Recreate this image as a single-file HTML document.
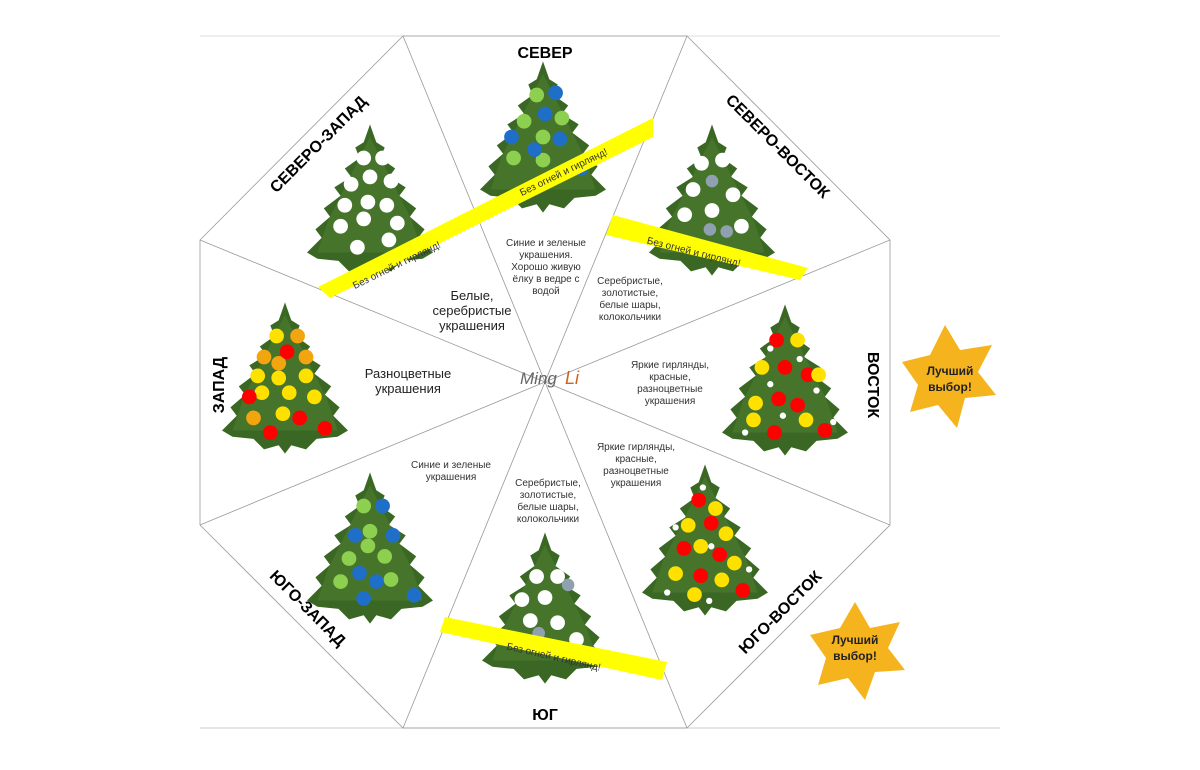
<!DOCTYPE html>
<html><head><meta charset="utf-8"><style>
html,body{margin:0;padding:0;background:#fff}
svg text{font-family:"Liberation Sans",sans-serif}
</style></head><body>
<svg width="1200" height="765" viewBox="0 0 1200 765" xmlns="http://www.w3.org/2000/svg">
<defs>
<g id="tree">
<polygon points="0,-72 6,-55 14,-50 10,-40 24,-30 18,-22 34,-12 28,-4 44,8 38,16 52,28 46,36 60,50 50,56 30,58 20,68 6,64 0,72 -6,64 -20,68 -30,58 -50,56 -60,50 -46,36 -52,28 -38,16 -44,8 -28,-4 -34,-12 -18,-22 -24,-30 -10,-40 -14,-50 -6,-55" fill="#3a6824"/>
<polygon points="0,-60 20,-20 40,20 50,50 -50,50 -40,20 -20,-20" fill="#4f7d30" opacity="0.6"/>
</g>
</defs>
<line x1="200" y1="36" x2="1000" y2="36" stroke="#ddd"/>
<line x1="200" y1="728" x2="1000" y2="728" stroke="#ccc"/>
<g stroke="#999" stroke-width="0.8" fill="none">
<polygon points="403,36 687,36 890,240 890,525 687,728 403,728 200,525 200,240"/>
<line x1="545" y1="382" x2="403" y2="36"/><line x1="545" y1="382" x2="687" y2="36"/>
<line x1="545" y1="382" x2="890" y2="240"/><line x1="545" y1="382" x2="890" y2="525"/>
<line x1="545" y1="382" x2="687" y2="728"/><line x1="545" y1="382" x2="403" y2="728"/>
<line x1="545" y1="382" x2="200" y2="525"/><line x1="545" y1="382" x2="200" y2="240"/>
</g>
<g transform="translate(543,137) scale(1.05)"><use href="#tree"/>
<g fill="#8dcf4f"><circle cx="-6" cy="-40" r="7"/><circle cx="-18" cy="-15" r="7"/><circle cx="0" cy="0" r="7"/><circle cx="18" cy="-18" r="7"/><circle cx="-28" cy="20" r="7"/><circle cx="0" cy="22" r="7"/></g>
<g fill="#1f6fc8"><circle cx="12" cy="-42" r="7"/><circle cx="2" cy="-22" r="7"/><circle cx="-30" cy="0" r="7"/><circle cx="16" cy="2" r="7"/><circle cx="-8" cy="12" r="7"/><circle cx="36" cy="30" r="7"/></g></g>
<g transform="translate(370,200) scale(1.05)"><use href="#tree"/>
<g fill="#fff"><circle cx="-6" cy="-40" r="7"/><circle cx="12" cy="-40" r="7"/><circle cx="0" cy="-22" r="7"/><circle cx="20" cy="-18" r="7"/><circle cx="-18" cy="-15" r="7"/><circle cx="-24" cy="5" r="7"/><circle cx="-2" cy="2" r="7"/><circle cx="16" cy="5" r="7"/><circle cx="-28" cy="25" r="7"/><circle cx="-6" cy="18" r="7"/><circle cx="26" cy="22" r="7"/><circle cx="18" cy="38" r="7"/><circle cx="-12" cy="45" r="7"/><circle cx="38" cy="48" r="7"/></g></g>
<g transform="translate(712,200) scale(1.05)"><use href="#tree"/>
<g fill="#fff"><circle cx="-10" cy="-35" r="7"/><circle cx="10" cy="-38" r="7"/><circle cx="-18" cy="-10" r="7"/><circle cx="20" cy="-5" r="7"/><circle cx="0" cy="10" r="7"/><circle cx="-26" cy="14" r="7"/><circle cx="28" cy="25" r="7"/></g>
<g fill="#8fa0b0"><circle cx="0" cy="-18" r="6"/><circle cx="-2" cy="28" r="6"/><circle cx="14" cy="30" r="6"/></g></g>
<g transform="translate(285,378) scale(1.05)"><use href="#tree"/>
<g fill="#ffe100"><circle cx="-8" cy="-40" r="7"/><circle cx="20" cy="-2" r="7"/><circle cx="-6" cy="0" r="7"/><circle cx="-22" cy="14" r="7"/><circle cx="4" cy="14" r="7"/><circle cx="28" cy="18" r="7"/><circle cx="-2" cy="34" r="7"/><circle cx="-26" cy="-2" r="7"/></g>
<g fill="#f2a50f"><circle cx="12" cy="-40" r="7"/><circle cx="-20" cy="-20" r="7"/><circle cx="-6" cy="-14" r="7"/><circle cx="-30" cy="38" r="7"/><circle cx="20" cy="-20" r="7"/></g>
<g fill="#f00"><circle cx="2" cy="-25" r="7"/><circle cx="-34" cy="18" r="7"/><circle cx="14" cy="38" r="7"/><circle cx="-14" cy="52" r="7"/><circle cx="38" cy="48" r="7"/></g></g>
<g transform="translate(785,380) scale(1.05)"><use href="#tree"/>
<g fill="#f00"><circle cx="-8" cy="-38" r="7"/><circle cx="0" cy="-12" r="7"/><circle cx="22" cy="-5" r="7"/><circle cx="-6" cy="18" r="7"/><circle cx="12" cy="24" r="7"/><circle cx="38" cy="48" r="7"/><circle cx="-10" cy="50" r="7"/></g>
<g fill="#ffe100"><circle cx="12" cy="-38" r="7"/><circle cx="-22" cy="-12" r="7"/><circle cx="32" cy="-5" r="7"/><circle cx="-28" cy="22" r="7"/><circle cx="20" cy="38" r="7"/><circle cx="-30" cy="38" r="7"/></g>
<g fill="#fff"><circle cx="-14" cy="-30" r="3"/><circle cx="14" cy="-20" r="3"/><circle cx="-38" cy="50" r="3"/><circle cx="-2" cy="34" r="3"/><circle cx="30" cy="10" r="3"/><circle cx="-14" cy="4" r="3"/><circle cx="46" cy="40" r="3"/></g></g>
<g transform="translate(370,548) scale(1.05)"><use href="#tree"/>
<g fill="#8dcf4f"><circle cx="-6" cy="-40" r="7"/><circle cx="0" cy="-16" r="7"/><circle cx="-20" cy="10" r="7"/><circle cx="14" cy="8" r="7"/><circle cx="-28" cy="32" r="7"/><circle cx="20" cy="30" r="7"/><circle cx="-2" cy="-2" r="7"/></g>
<g fill="#1f6fc8"><circle cx="12" cy="-40" r="7"/><circle cx="-14" cy="-12" r="7"/><circle cx="22" cy="-12" r="7"/><circle cx="-10" cy="24" r="7"/><circle cx="6" cy="32" r="7"/><circle cx="-6" cy="48" r="7"/><circle cx="42" cy="45" r="7"/></g></g>
<g transform="translate(545,608) scale(1.05)"><use href="#tree"/>
<g fill="#fff"><circle cx="-8" cy="-30" r="7"/><circle cx="12" cy="-30" r="7"/><circle cx="-22" cy="-8" r="7"/><circle cx="0" cy="-10" r="7"/><circle cx="-14" cy="12" r="7"/><circle cx="12" cy="14" r="7"/><circle cx="-30" cy="30" r="7"/><circle cx="30" cy="30" r="7"/></g>
<g fill="#8fa0b0"><circle cx="22" cy="-22" r="6"/><circle cx="-6" cy="24" r="6"/></g></g>
<g transform="translate(705,540) scale(1.05)"><use href="#tree"/>
<g fill="#f00"><circle cx="-6" cy="-38" r="7"/><circle cx="6" cy="-16" r="7"/><circle cx="-20" cy="8" r="7"/><circle cx="14" cy="14" r="7"/><circle cx="-4" cy="34" r="7"/><circle cx="36" cy="48" r="7"/></g>
<g fill="#ffe100"><circle cx="10" cy="-30" r="7"/><circle cx="-16" cy="-14" r="7"/><circle cx="20" cy="-6" r="7"/><circle cx="-4" cy="6" r="7"/><circle cx="28" cy="22" r="7"/><circle cx="-28" cy="32" r="7"/><circle cx="16" cy="38" r="7"/><circle cx="-10" cy="52" r="7"/></g>
<g fill="#fff"><circle cx="-2" cy="-50" r="3"/><circle cx="-28" cy="-12" r="3"/><circle cx="6" cy="6" r="3"/><circle cx="-36" cy="50" r="3"/><circle cx="4" cy="58" r="3"/><circle cx="42" cy="28" r="3"/></g></g>
<g fill="#ffff00">
<polygon points="318,287 330,298 653,137 653,118"/>
<polygon points="613,215 606,235 800,280 808,268"/>
<polygon points="445,617 440,632 662,680 667,662"/>
</g>
<g font-size="10" fill="#333">
<text transform="translate(398,268) rotate(-26)" text-anchor="middle">Без огней и гирлянд!</text>
<text transform="translate(565,175) rotate(-26)" text-anchor="middle">Без огней и гирлянд!</text>
<text transform="translate(693,255) rotate(14)" text-anchor="middle">Без огней и гирлянд!</text>
<text transform="translate(553,660) rotate(13)" text-anchor="middle">Без огней и гирлянд!</text>
</g>
<g font-weight="bold" font-size="16" fill="#000" text-anchor="middle">
<text x="545" y="58">СЕВЕР</text>
<text x="545" y="720">ЮГ</text>
<text transform="translate(322,148) rotate(-45)">СЕВЕРО-ЗАПАД</text>
<text transform="translate(774,150) rotate(45)">СЕВЕРО-ВОСТОК</text>
<text transform="translate(868,385) rotate(90)">ВОСТОК</text>
<text transform="translate(224,385) rotate(-90)">ЗАПАД</text>
<text transform="translate(304,612) rotate(45)">ЮГО-ЗАПАД</text>
<text transform="translate(784,616) rotate(-45)">ЮГО-ВОСТОК</text>
</g>
<g font-size="10" fill="#333" text-anchor="middle">
<text x="546" y="246">Синие и зеленые</text><text x="546" y="258">украшения.</text><text x="546" y="270">Хорошо живую</text><text x="546" y="282">ёлку в ведре с</text><text x="546" y="294">водой</text>
<text x="630" y="284">Серебристые,</text><text x="630" y="296">золотистые,</text><text x="630" y="308">белые шары,</text><text x="630" y="320">колокольчики</text>
<text x="670" y="368">Яркие гирлянды,</text><text x="670" y="380">красные,</text><text x="670" y="392">разноцветные</text><text x="670" y="404">украшения</text>
<text x="636" y="450">Яркие гирлянды,</text><text x="636" y="462">красные,</text><text x="636" y="474">разноцветные</text><text x="636" y="486">украшения</text>
<text x="451" y="468">Синие и зеленые</text><text x="451" y="480">украшения</text>
<text x="548" y="486">Серебристые,</text><text x="548" y="498">золотистые,</text><text x="548" y="510">белые шары,</text><text x="548" y="522">колокольчики</text>
</g>
<g font-size="13" fill="#222" text-anchor="middle">
<text x="472" y="300">Белые,</text><text x="472" y="315">серебристые</text><text x="472" y="330">украшения</text>
<text x="408" y="378">Разноцветные</text><text x="408" y="393">украшения</text>
</g>
<text x="520" y="384" font-family="Liberation Serif,serif" font-style="italic" font-size="17" fill="#666">Ming</text>
<text x="565" y="384" font-family="Liberation Serif,serif" font-style="italic" font-size="18" fill="#d6621a">Li</text>
<g fill="#f5b41e">
<polygon points="945,325 960,350 992,345 978,372 996,395 965,398 957,428 938,405 910,412 918,385 902,362 930,355"/>
<polygon points="855,602 870,628 900,622 888,648 905,670 875,672 865,700 848,678 818,685 826,658 810,635 840,628"/>
</g>
<g font-weight="bold" font-size="12" fill="#222" text-anchor="middle">
<text x="950" y="375">Лучший</text><text x="950" y="391">выбор!</text>
<text x="855" y="644">Лучший</text><text x="855" y="660">выбор!</text>
</g>
</svg>
</body></html>
